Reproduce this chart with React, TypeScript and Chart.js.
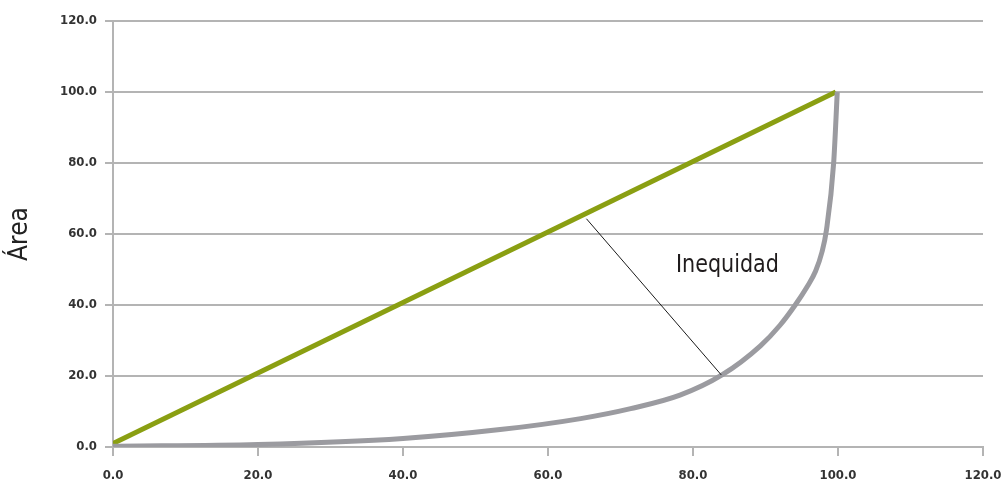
import React, { useEffect, useRef } from "react";
import { Chart, registerables } from "chart.js";

Chart.register(...registerables);

// Equality line (green)
const equalityX = [0, 99.7];
const equalityY = [1, 100];

// Lorenz curve (gray)
const curveX = [0, 20, 40, 53.4, 64.5, 71.4, 78.2, 84, 89.3, 92, 94.1, 95.7, 96.9, 97.8, 98.4, 99.4, 99.9];
const curveY = [0.2, 0.7, 2.4, 4.9, 8.0, 10.8, 14.6, 20.3, 28.5, 34.3, 40.0, 45.0, 49.5, 55.0, 61.0, 80.0, 100.0];

// Annotation pointer line
const pointerX = [65.3, 83.9];
const pointerY = [64.3, 20.3];
const annotationText = "Inequidad";
const annotationPos = [84.75, 51.2];

const yTitle = "Área";
const axisMin = 0;
const axisMax = 120;
const axisStep = 20;

const FONT = "'DejaVu Sans Condensed', 'DejaVu Sans', sans-serif";

const toPoints = (xs: number[], ys: number[]) => xs.map((x, i) => ({ x, y: ys[i] }));

const labelPlugin = {
  id: "inequidadLabel",
  afterDatasetsDraw(chart: any) {
    const { ctx, scales } = chart;
    const px = scales.x.getPixelForValue(annotationPos[0]);
    const py = scales.y.getPixelForValue(annotationPos[1]);
    ctx.save();
    ctx.fillStyle = "#1f1b1c";
    ctx.font = `25px ${FONT}`;
    ctx.textAlign = "center";
    ctx.textBaseline = "middle";
    ctx.translate(px, py);
    ctx.scale(0.92, 1);
    ctx.fillText(annotationText, 0, 0);
    ctx.restore();
  },
};

export default function App() {
  const ref = useRef<HTMLCanvasElement | null>(null);

  useEffect(() => {
    document.body.style.margin = "0";
    if (!ref.current) return;
    const gridColor = "#b4b4b4";
    const tickFont = { family: FONT, size: 13, weight: "bold" as const };
    const chart = new Chart(ref.current, {
      type: "line",
      data: {
        datasets: [
          {
            data: toPoints(pointerX, pointerY),
            borderColor: "#1a1a1a",
            borderWidth: 1,
            pointRadius: 0,
            order: 0,
          },
          {
            data: toPoints(curveX, curveY),
            borderColor: "#9b9ba0",
            borderWidth: 5,
            pointRadius: 0,
            cubicInterpolationMode: "monotone",
            order: 1,
          },
          {
            data: toPoints(equalityX, equalityY),
            borderColor: "#8a9f12",
            borderWidth: 5,
            pointRadius: 0,
            order: 2,
          },
        ],
      },
      options: {
        animation: false,
        responsive: true,
        maintainAspectRatio: false,
        layout: { padding: { top: 21, right: 19, bottom: 0, left: 0 } },
        plugins: { legend: { display: false }, tooltip: { enabled: false } },
        scales: {
          x: {
            type: "linear",
            min: axisMin,
            max: axisMax,
            ticks: {
              stepSize: axisStep,
              color: "#333",
              font: tickFont,
              padding: 12,
              maxRotation: 0,
              callback: (v: any) => Number(v).toFixed(1),
            },
            grid: {
              drawOnChartArea: false,
              drawTicks: true,
              tickLength: 9,
              color: gridColor,
              lineWidth: 2,
            },
            border: { color: gridColor, width: 2 },
            afterFit: (s: any) => {
              s.height = 35;
              s.paddingLeft = 0;
              s.paddingRight = 0;
            },
          },
          y: {
            type: "linear",
            min: axisMin,
            max: axisMax,
            ticks: {
              stepSize: axisStep,
              color: "#333",
              font: tickFont,
              padding: 8,
              callback: (v: any) => Number(v).toFixed(1),
            },
            grid: {
              drawOnChartArea: true,
              drawTicks: true,
              tickLength: 8,
              color: gridColor,
              lineWidth: 2,
            },
            border: { color: gridColor, width: 2 },
            title: {
              display: true,
              text: yTitle,
              color: "#222",
              font: { family: FONT, size: 26 },
              padding: { top: 5, bottom: 0 },
            },
            afterFit: (s: any) => {
              s.width = 113;
              s.paddingTop = 0;
              s.paddingBottom = 0;
            },
          },
        },
      },
      plugins: [labelPlugin],
    });
    return () => chart.destroy();
  }, []);

  return (
    <div style={{ width: 1002, height: 482, position: "relative" }}>
      <canvas ref={ref} />
    </div>
  );
}
